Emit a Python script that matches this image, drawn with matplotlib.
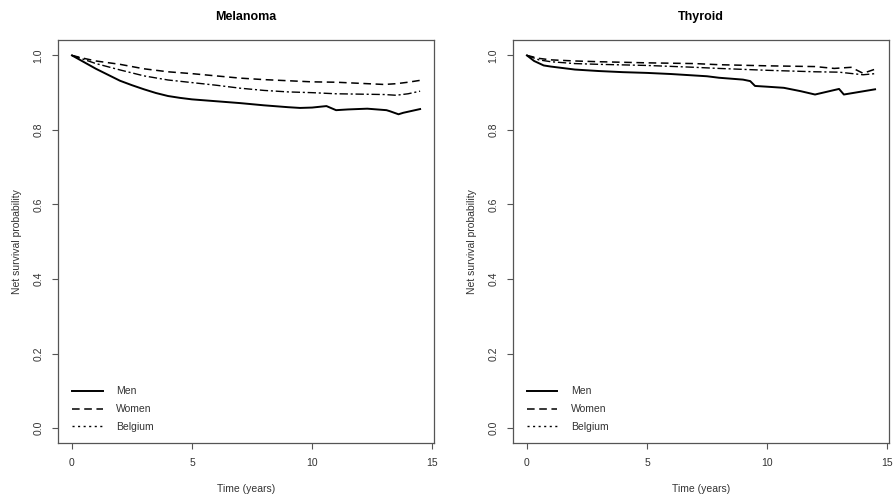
import matplotlib
matplotlib.use('Agg')
import matplotlib.pyplot as plt
from matplotlib.lines import Line2D

plt.rcParams['font.family'] = ['Liberation Sans', 'DejaVu Sans']

# Melanoma
mel_men_t = [0, 0.5, 1, 1.5, 2, 2.5, 3, 3.5, 4, 4.5, 5, 6, 7, 8, 9, 9.5, 10, 10.6, 11.0, 11.5, 12.3, 13.1, 13.25, 13.6, 13.8, 14.5]
mel_men_s = [1.0, 0.982, 0.964, 0.948, 0.932, 0.920, 0.909, 0.899, 0.891, 0.886, 0.882, 0.877, 0.872, 0.866, 0.861, 0.859, 0.860, 0.864, 0.853, 0.855, 0.857, 0.853, 0.850, 0.842, 0.846, 0.856]
mel_women_t = [0, 0.5, 1, 2, 3, 4, 5, 6, 7, 8, 9, 10, 11, 12, 13, 13.5, 14, 14.5]
mel_women_s = [1.0, 0.992, 0.985, 0.976, 0.964, 0.956, 0.951, 0.945, 0.939, 0.935, 0.932, 0.929, 0.928, 0.925, 0.922, 0.924, 0.928, 0.933]
mel_bel_t = [0, 0.5, 1, 2, 3, 4, 5, 6, 7, 7.5, 8, 9, 10, 11, 12, 13, 13.5, 14, 14.5]
mel_bel_s = [1.0, 0.989, 0.978, 0.961, 0.945, 0.934, 0.927, 0.920, 0.912, 0.909, 0.906, 0.902, 0.900, 0.897, 0.896, 0.895, 0.893, 0.897, 0.904]

# Thyroid
thy_men_t = [0, 0.3, 0.7, 1, 2, 3, 4, 5, 6, 7, 7.5, 8, 9, 9.3, 9.5, 10, 10.7, 11.4, 12, 13.0, 13.2, 14.5]
thy_men_s = [1.0, 0.985, 0.973, 0.970, 0.962, 0.958, 0.955, 0.953, 0.950, 0.946, 0.944, 0.940, 0.935, 0.931, 0.918, 0.916, 0.913, 0.904, 0.895, 0.910, 0.895, 0.909]
thy_women_t = [0, 0.5, 1, 2, 3, 5, 7, 8, 10, 12, 12.8, 13.5, 14, 14.5]
thy_women_s = [1.0, 0.992, 0.988, 0.985, 0.983, 0.980, 0.978, 0.975, 0.972, 0.970, 0.965, 0.968, 0.952, 0.963]
thy_bel_t = [0, 0.5, 1, 2, 3, 5, 7, 8, 10, 12, 13, 14, 14.5]
thy_bel_s = [1.0, 0.988, 0.983, 0.978, 0.976, 0.973, 0.968, 0.965, 0.960, 0.956, 0.955, 0.948, 0.951]

panels = [
    ('Melanoma', mel_men_t, mel_men_s, mel_women_t, mel_women_s, mel_bel_t, mel_bel_s),
    ('Thyroid', thy_men_t, thy_men_s, thy_women_t, thy_women_s, thy_bel_t, thy_bel_s),
]
legend_labels = ['Men', 'Women', 'Belgium']
xticks = [0, 5, 10, 15]
yticks = [0.0, 0.2, 0.4, 0.6, 0.8, 1.0]

frame_col = '#555555'
text_col = '#333333'
fig = plt.figure(figsize=(8.94, 5.01), dpi=100)
lefts = [0.0649, 0.5738]

for left, (title, mt, ms, wt, ws, bt, bs) in zip(lefts, panels):
    ax = fig.add_axes([left, 0.1158, 0.4206, 0.8034])
    ax.plot(mt, ms, color='black', lw=1.4, ls='-')
    ax.plot(wt, ws, color='black', lw=1.1, ls=(0, (5, 3)))
    ax.plot(bt, bs, color='black', lw=1.0, ls=(0, (6, 2, 1.5, 2)))
    ax.set_xlim(-0.58, 15.08)
    ax.set_ylim(-0.04, 1.04)
    ax.set_xticks(xticks)
    ax.set_yticks(yticks)
    ax.set_xticklabels([str(v) for v in xticks])
    ax.set_yticklabels(['%.1f' % v for v in yticks], rotation=90, va='center')
    for sp in ax.spines.values():
        sp.set_color(frame_col)
        sp.set_linewidth(0.9)
    ax.tick_params(direction='out', length=4.5, width=0.8, color=frame_col,
                   labelsize=7.5, labelcolor=text_col, pad=6)
    ax.set_title(title, fontsize=9, fontweight='bold', pad=15)
    ax.set_xlabel('Time (years)', fontsize=7.5, color=text_col, labelpad=12)
    ax.set_ylabel('Net survival probability', fontsize=7.5, color=text_col, labelpad=8)
    handles = [Line2D([], [], color='black', lw=1.4, ls='-'),
               Line2D([], [], color='black', lw=1.1, ls=(0, (5, 3))),
               Line2D([], [], color='black', lw=1.0, ls=(0, (1.5, 2.5)))]
    ax.legend(handles, legend_labels, loc='lower left', bbox_to_anchor=(0.038, 0.027),
              frameon=False, fontsize=7.5, handlelength=2.9, handletextpad=1.3,
              labelspacing=0.75, borderpad=0, borderaxespad=0, labelcolor=text_col)

fig.savefig('out.png', dpi=100)
